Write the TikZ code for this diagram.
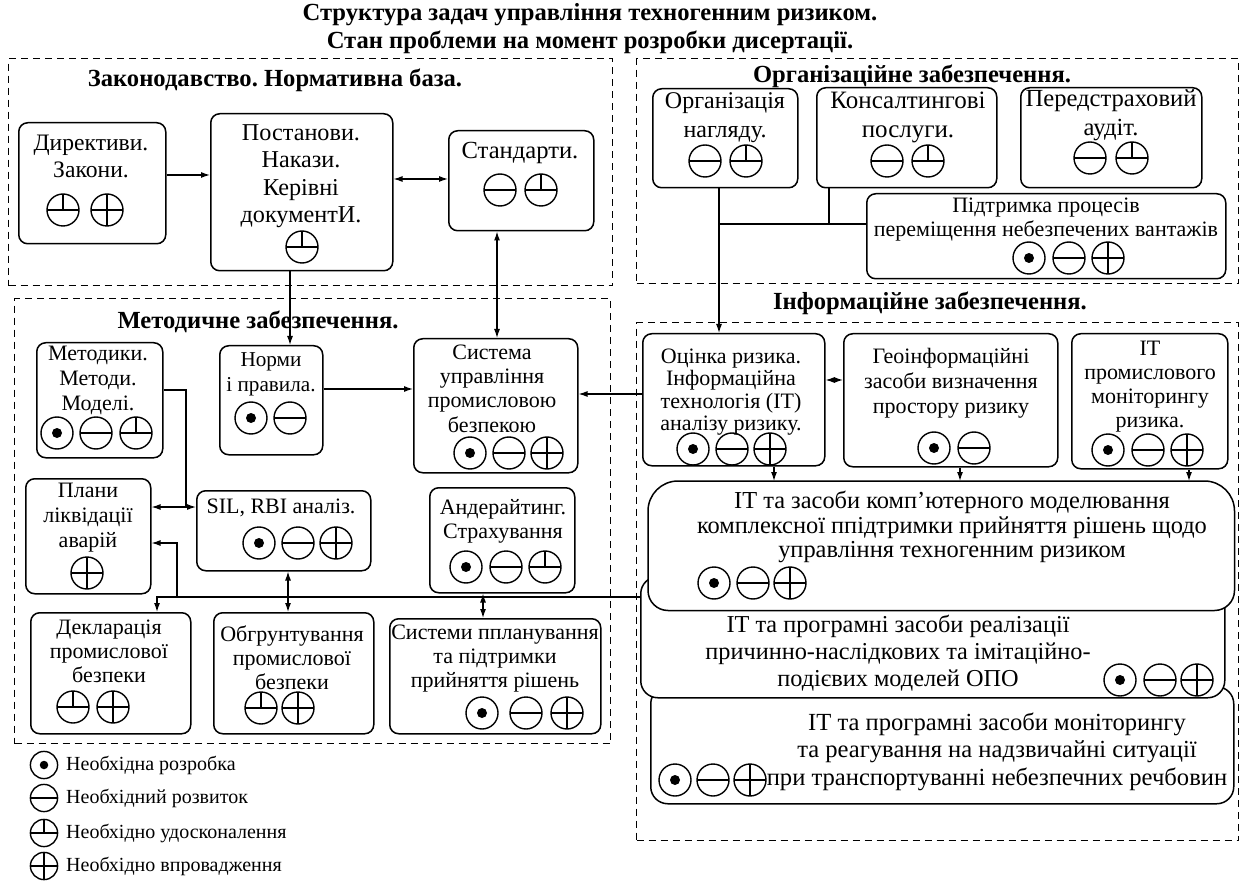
\documentclass[tikz,border=0pt]{standalone}
\usepackage{fontspec}
\setmainfont{Liberation Serif}
\usetikzlibrary{arrows.meta}
\frenchspacing

% status symbols: circle with dot, minus, "perp" and plus
\tikzset{
  symc/.style={line width=1.4pt},
  symi/.style={line width=1.2pt},
  pics/sdot/.style={code={\draw[symc] (0,0) circle[radius=16pt]; \fill (0,0) circle[radius=5pt];}},
  pics/smin/.style={code={\draw[symc] (0,0) circle[radius=16pt]; \draw[symi] (-16,0) -- (16,0);}},
  pics/sper/.style={code={\draw[symc] (0,0) circle[radius=16pt]; \draw[symi] (-16,0) -- (16,0) (0,0) -- (0,-16);}},
  pics/spl/.style={code={\draw[symc] (0,0) circle[radius=16pt]; \draw[symi] (-16,0) -- (16,0) (0,-16) -- (0,16);}},
}

\begin{document}
\begin{tikzpicture}[x=1pt,y=-1pt,
  wh/.style 2 args={minimum width=#1pt, minimum height=#2pt},
  box/.style={draw, line width=1.5pt, rounded corners=9pt, anchor=north west, inner sep=0pt, fill=white},
  frm/.style={draw, dash pattern=on 7pt off 5pt, line width=1.2pt, anchor=north west, inner sep=0pt},
  stk/.style={draw, line width=1.5pt, fill=white, anchor=north west, inner sep=0pt, rounded corners=17pt},
  txt/.style={align=center, inner sep=0pt, font=\fontsize{22}{24}\selectfont},
  fs/.style 2 args={txt, font=\fontsize{#1}{#2}\selectfont},
  hdr/.style={inner sep=0pt, align=center, font=\fontsize{24.6}{28}\selectfont\bfseries},
  lg/.style={anchor=west, inner sep=0pt, font=\fontsize{20}{24}\selectfont},
  con/.style={line width=1.2pt},
  arr/.style={con, -{Latex[length=9pt,width=6pt]}},
  dbl/.style={con, {Latex[length=9pt,width=6pt]}-{Latex[length=9pt,width=6pt]}},
]
\fill[white] (0,0) rectangle (1242,882);
\useasboundingbox (0,0) rectangle (1242,882);

% ---------- group frames ----------
\node[frm, wh={604}{227}] (fZ) at (8,58) {};
\node[frm, wh={602}{225}] (fO) at (636,58) {};
\node[frm, wh={596}{445}] (fM) at (14,298) {};
\node[frm, wh={602}{518}] (fI) at (636,322) {};

% ---------- headings ----------
\node[hdr] (title) at (590,29) {Структура задач управління техногенним ризиком.\\Стан проблеми на момент розробки дисертації.};
\node[hdr] (hZ) at (275,80) {Законодавство. Нормативна база.};
\node[hdr] (hO) at (912,76) {Організаційне забезпечення.};
\node[hdr] (hM) at (258,322) {Методичне забезпечення.};
\node[hdr] (hI) at (930,303) {Інформаційне забезпечення.};

% ---------- legislation ----------
\node[box, wh={147}{121}] (dir) at (18,122) {};
\node[fs={23.6}{27}] (dirT) at (91,156.5) {Директиви.\\Закони.};
\pic at (63,210) {sper}; \pic at (107,210) {spl};

\node[box, wh={182}{157}] (pos) at (210,113) {};
\node[fs={24.2}{27.5}] (posT) at (301,176) {Постанови.\\Накази.\\Керівні\\документИ.};
\pic at (302,247) {sper};

\node[box, wh={145}{100}] (std) at (448,130) {};
\node[fs={24.6}{27}] (stdT) at (520,153) {Стандарти.};
\pic at (500,190) {smin}; \pic at (541,190) {sper};

% ---------- organisation ----------
\node[box, wh={145}{99}] (org) at (652,88) {};
\node[fs={24}{29}] (orgT) at (725,117.5) {Організація\\нагляду.};
\pic at (705,161) {smin}; \pic at (746,161) {sper};

\node[box, wh={180}{100}] (kon) at (816,87) {};
\node[fs={25}{29}] (konT) at (908,117.5) {Консалтингові\\послуги.};
\pic at (887,161) {smin}; \pic at (928,161) {sper};

\node[box, wh={181}{100}] (per) at (1020,87) {};
\node[fs={24.6}{29}] (perT) at (1111,115) {Передстраховий\\аудіт.};
\pic at (1090,158) {smin}; \pic at (1132,158) {sper};

\node[box, wh={359}{85}] (pid) at (866,193) {};
\node[fs={22}{23.5}] (pidT) at (1046,219.5) {Підтримка процесів\\переміщення небезпечених вантажів};
\pic at (1029,258) {sdot}; \pic at (1069,258) {smin}; \pic at (1108,258) {spl};

% ---------- methods ----------
\node[box, wh={126}{115}] (met) at (36,342) {};
\node[fs={22}{25}] (metT) at (98,380) {Методики.\\Методи.\\Моделі.};
\pic at (57,433) {sdot}; \pic at (96,433) {smin}; \pic at (136,433) {sper};

\node[box, wh={103}{109}] (nrm) at (219,345) {};
\node[fs={21.2}{25}] (nrmT) at (271,374.5) {Норми\\і правила.};
\pic at (251,418) {sdot}; \pic at (290,418) {smin};

\node[box, wh={164}{134}] (sys) at (413,338) {};
\node[fs={22}{24.3}] (sysT) at (492,388.5) {Система\\управління\\промисловою\\безпекою};
\pic at (470,453) {sdot}; \pic at (509,453) {smin}; \pic at (547,453) {spl};

\node[box, wh={125}{115}] (pla) at (25,478) {};
\node[fs={22}{25}] (plaT) at (88,518) {Плани\\ліквідації\\аварій};
\pic at (87,573) {spl};

\node[box, wh={174}{80}] (sil) at (196,490) {};
\node[txt] (silT) at (281,508) {SIL, RBI аналіз.};
\pic at (259,543) {sdot}; \pic at (298,543) {smin}; \pic at (336,543) {spl};

\node[box, wh={145}{105}] (und) at (429,487) {};
\node[txt] (undT) at (503,521.5) {Андерайтинг.\\Страхування};
\pic at (466,567) {sdot}; \pic at (506,567) {smin}; \pic at (545,567) {sper};

\node[box, wh={160}{121}] (dek) at (30,612) {};
\node[txt] (dekT) at (109,651) {Декларація\\промислової\\безпеки};
\pic at (73,707) {sper}; \pic at (113,707) {spl};

\node[box, wh={160}{121}] (obg) at (213,612) {};
\node[txt] (obgT) at (292,657.5) {Обгрунтування\\промислової\\безпеки};
\pic at (261,708) {sper}; \pic at (298,708) {spl};

\node[box, wh={211}{115}] (sps) at (389,618) {};
\node[txt] (spsT) at (495,659) {Системи ппланування\\та підтримки\\прийняття рішень};
\pic at (482,713) {sdot}; \pic at (526,713) {smin}; \pic at (567,713) {spl};

% ---------- information ----------
\node[box, wh={182}{132}] (ocn) at (642,333) {};
\node[fs={22}{22.5}] (ocnT) at (731,392) {Оцінка ризика.\\Інформаційна\\технологія (ІТ)\\аналізу ризику.};
\pic at (693,449) {sdot}; \pic at (732,449) {smin}; \pic at (770,449) {spl};

\node[box, wh={214}{133}] (geo) at (843,333) {};
\node[fs={22}{25}] (geoT) at (951,383) {Геоінформаційні\\засоби визначення\\простору ризику};
\pic at (934,448) {sdot}; \pic at (974,448) {smin};

\node[box, wh={156}{135}] (itm) at (1071,333) {};
\node[txt] (itmT) at (1150,387) {ІТ\\промислового\\моніторингу\\ризика.};
\pic at (1108,450) {sdot}; \pic at (1148,450) {smin}; \pic at (1187,450) {spl};

% stacked IT tools, drawn back to front
\node[stk, wh={583}{117}] (it3) at (650,686) {};
\node[stk, wh={584}{121}] (it2) at (640,576) {};
\node[stk, draw=none, fill=none, wh={585}{128}] (it1) at (648,481) {};
\path[draw, fill=white, line width=1.5pt] (it1.west)
  [rounded corners=20pt] -- (it1.south west) -- (it1.south east) -- (it1.east)
  [rounded corners=30pt] -- (it1.north east) -- (it1.north west) -- cycle;

\node[fs={24.4}{24.5}] (it1T) at (952,527) {ІТ та засоби комп’ютерного моделювання\\комплексної ппідтримки прийняття рішень щодо\\управління техногенним ризиком};
\pic at (714,583) {sdot}; \pic at (753,583) {smin}; \pic at (790,583) {spl};

\node[fs={24.3}{27}] (it2T) at (898,653) {ІТ та програмні засоби реалізації\\причинно-наслідкових та імітаційно-\\подієвих моделей ОПО};
\pic at (1120,680) {sdot}; \pic at (1160,680) {smin}; \pic at (1197,680) {spl};

\node[fs={24.6}{27.5}] (it3T) at (997,751.5) {ІТ та програмні засоби моніторингу\\та реагування на надзвичайні ситуації\\при транспортуванні небезпечних речбовин};
\pic at (675,780) {sdot}; \pic at (713,780) {smin}; \pic at (750,780) {spl};

% ---------- connectors ----------
\draw[arr] (dir.east |- 0,175) -- (pos.west |- 0,175);
\draw[dbl] (pos.east |- 0,179) -- (std.west |- 0,179);
\draw[arr] (290,0 |- pos.south) -- (290,0 |- nrm.north);
\draw[dbl] (497,0 |- std.south) -- (497,0 |- sys.north);

\draw[con] (829,0 |- kon.south) -- (829,224);
\draw[con] (719,224) -- (pid.west |- 0,224);
\draw[arr] (719,0 |- org.south) -- (719,0 |- ocn.north);

\draw[arr] (nrm.east |- 0,389) -- (sys.west |- 0,389);
\draw[arr] (ocn.west |- 0,394) -- (sys.east |- 0,394);
\draw[dbl] (ocn.east |- 0,380) -- (geo.west |- 0,380);

\draw[con] (met.east |- 0,390) -| (186,507);
\draw[dbl] (pla.east |- 0,507) -- (sil.west |- 0,507);

\draw[arr] (774,0 |- ocn.south) -- (774,0 |- it1.north);
\draw[arr] (960,0 |- geo.south) -- (960,0 |- it1.north);
\draw[arr] (1189,0 |- itm.south) -- (1189,0 |- it1.north);

\draw[arr] (it2.west |- 0,597) -| (157,0 |- dek.north);
\draw[arr] (177,597) |- (pla.east |- 0,543);
\draw[dbl] (288,0 |- sil.south) -- (288,0 |- obg.north);
\draw[dbl] (483,0 |- und.south) -- (483,0 |- sps.north);

% ---------- legend ----------
\pic[scale=0.85] at (44,765) {sdot};
\node[lg] (lg1) at (66,765) {Необхідна розробка};
\pic[scale=0.85] at (44,798) {smin};
\node[lg] (lg2) at (66,798) {Необхідний розвиток};
\pic[scale=0.85] at (44,833) {sper};
\node[lg] (lg3) at (66,833) {Необхідно удосконалення};
\pic[scale=0.85] at (44,866) {spl};
\node[lg] (lg4) at (66,866) {Необхідно впровадження};
\end{tikzpicture}
\end{document}
